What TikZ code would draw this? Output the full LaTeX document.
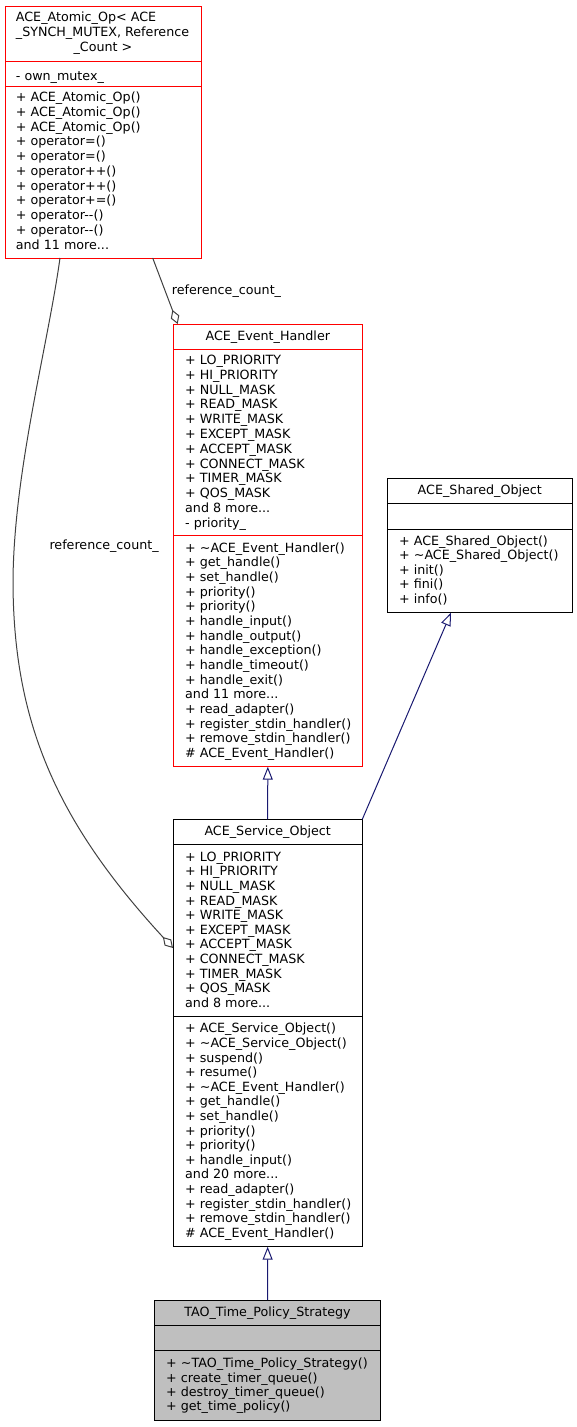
\documentclass[tikz,border=0pt]{standalone}
\usepackage{fontspec}
\newfontfamily\dv{DejaVu Sans}
\usetikzlibrary{arrows.meta,calc}
\definecolor{inhcol}{HTML}{191970}
\definecolor{aggcol}{HTML}{404040}
\definecolor{taofill}{HTML}{BFBFBF}
\newcommand{\mydots}{...}
\begin{document}
\begin{tikzpicture}[x=1pt,y=-1pt,
  cls/.style={draw=#1, line width=1pt, anchor=north west, inner sep=0pt, outer sep=0pt},
  txt/.style={anchor=base west, inner sep=0pt, font=\dv\fontsize{12.7}{14.65}\selectfont},
  ttl/.style={anchor=base, inner sep=0pt, font=\dv\fontsize{12.7}{14.65}\selectfont},
  divline/.style={line width=1pt, draw=#1},
  inh/.style={draw=inhcol, line width=1pt, -{Triangle[open, length=13pt, width=10pt]}},
  agg/.style={draw=aggcol, line width=1pt, -{Diamond[open, length=15pt, width=9pt]}}]
\useasboundingbox (0,0) rectangle (577,1427);

% ---------------- ACE_Atomic_Op ----------------
\node[cls=red, minimum width=196pt, minimum height=252pt] (A) at (5,6) {};
\draw[divline=red] ($(A.north west)+(0,55)$) -- ($(A.north east)+(0,55)$);
\draw[divline=red] ($(A.north west)+(0,80)$) -- ($(A.north east)+(0,80)$);
\node[txt] (At1) at (15.7,21.8) {ACE\_Atomic\_Op< ACE};
\node[txt] (At2) at (15.7,36.8) {\_SYNCH\_MUTEX, Reference};
\node[ttl] (At3) at (103,51.2) {\_Count >};
\node[txt] (Aa1) at (15.7,80.5) {- own\_mutex\_};
\foreach \t [count=\i from 0] in {+ ACE\_Atomic\_Op(), + ACE\_Atomic\_Op(), + ACE\_Atomic\_Op(),
  + operator=(), + operator=(), + operator++(), + operator++(), + operator+=(),
  + operator-{}-(), + operator-{}-(), and 11 more\mydots}
  \node[txt] (Ao\i) at (15.7,{101.5+14.75*\i}) {\t};

% ---------------- ACE_Event_Handler ----------------
\node[cls=red, minimum width=189pt, minimum height=442.7pt] (B) at (173.3,324) {};
\draw[divline=red] ($(B.north west)+(0,25)$) -- ($(B.north east)+(0,25)$);
\draw[divline=red] ($(B.north west)+(0,211.7)$) -- ($(B.north east)+(0,211.7)$);
\node[ttl] (Bt) at (267.8,340.5) {ACE\_Event\_Handler};
\foreach \t [count=\i from 0] in {+ LO\_PRIORITY, + HI\_PRIORITY, + NULL\_MASK, + READ\_MASK,
  + WRITE\_MASK, + EXCEPT\_MASK, + ACCEPT\_MASK, + CONNECT\_MASK, + TIMER\_MASK, + QOS\_MASK,
  and 8 more\mydots, - priority\_}
  \node[txt] (Ba\i) at (185,{364.5+14.8*\i}) {\t};
\foreach \t [count=\i from 0] in {+ \textasciitilde ACE\_Event\_Handler(), + get\_handle(), + set\_handle(),
  + priority(), + priority(), + handle\_input(), + handle\_output(), + handle\_exception(),
  + handle\_timeout(), + handle\_exit(), and 11 more\mydots, + read\_adapter(),
  + register\_stdin\_handler(), + remove\_stdin\_handler(), \# ACE\_Event\_Handler()}
  \node[txt] (Bm\i) at (185,{552.2+14.65*\i}) {\t};

% ---------------- ACE_Shared_Object ----------------
\node[cls=black, minimum width=185pt, minimum height=134.4pt] (C) at (387.3,478.3) {};
\draw[divline=black] ($(C.north west)+(0,25)$) -- ($(C.north east)+(0,25)$);
\draw[divline=black] ($(C.north west)+(0,50.7)$) -- ($(C.north east)+(0,50.7)$);
\node[ttl] (Ct) at (479.8,494.5) {ACE\_Shared\_Object};
\foreach \t [count=\i from 0] in {+ ACE\_Shared\_Object(), + \textasciitilde ACE\_Shared\_Object(),
  + init(), + fini(), + info()}
  \node[txt] (Cm\i) at (399,{545.2+14.5*\i}) {\t};

% ---------------- ACE_Service_Object ----------------
\node[cls=black, minimum width=189.3pt, minimum height=427.4pt] (D) at (173,819.3) {};
\draw[divline=black] ($(D.north west)+(0,24.7)$) -- ($(D.north east)+(0,24.7)$);
\draw[divline=black] ($(D.north west)+(0,196.7)$) -- ($(D.north east)+(0,196.7)$);
\node[ttl] (Dt) at (267.7,835.2) {ACE\_Service\_Object};
\foreach \t [count=\i from 0] in {+ LO\_PRIORITY, + HI\_PRIORITY, + NULL\_MASK, + READ\_MASK,
  + WRITE\_MASK, + EXCEPT\_MASK, + ACCEPT\_MASK, + CONNECT\_MASK, + TIMER\_MASK, + QOS\_MASK,
  and 8 more\mydots}
  \node[txt] (Da\i) at (185,{861.2+14.6*\i}) {\t};
\foreach \t [count=\i from 0] in {+ ACE\_Service\_Object(), + \textasciitilde ACE\_Service\_Object(),
  + suspend(), + resume(), + \textasciitilde ACE\_Event\_Handler(), + get\_handle(), + set\_handle(),
  + priority(), + priority(), + handle\_input(), and 20 more\mydots, + read\_adapter(),
  + register\_stdin\_handler(), + remove\_stdin\_handler(), \# ACE\_Event\_Handler()}
  \node[txt] (Dm\i) at (185,{1032.8+14.6*\i}) {\t};

% ---------------- TAO_Time_Policy_Strategy ----------------
\node[cls=black, fill=taofill, minimum width=226.4pt, minimum height=120pt] (E) at (154.3,1300) {};
\draw[divline=black] ($(E.north west)+(0,25)$) -- ($(E.north east)+(0,25)$);
\draw[divline=black] ($(E.north west)+(0,50)$) -- ($(E.north east)+(0,50)$);
\node[ttl] (Et) at (267.5,1316.2) {TAO\_Time\_Policy\_Strategy};
\foreach \t [count=\i from 0] in {+ \textasciitilde TAO\_Time\_Policy\_Strategy(), + create\_timer\_queue(),
  + destroy\_timer\_queue(), + get\_time\_policy()}
  \node[txt] (Em\i) at (166,{1367.8+14.3*\i}) {\t};

% ---------------- connectors ----------------
\draw[inh] (D.north) -- (B.south);
\draw[inh] (E.north) -- (D.south);
\draw[inh] (D.north east) -- ($(C.south west)+(63.7,0)$);
\draw[agg] ($(A.south west)+(147.7,0)$) -- ($(B.north west)+(4.4,0)$);
\draw[agg] ($(A.south west)+(55,0)$) .. controls (48,345) and (14,470) .. (13,580)
  .. controls (13,720) and (55,820) .. ($(D.north west)+(0,128.7)$);
\node[txt] (L1) at (171.7,294.5) {reference\_count\_};
\node[txt] (L2) at (49.3,549.5) {reference\_count\_};
\end{tikzpicture}
\end{document}
